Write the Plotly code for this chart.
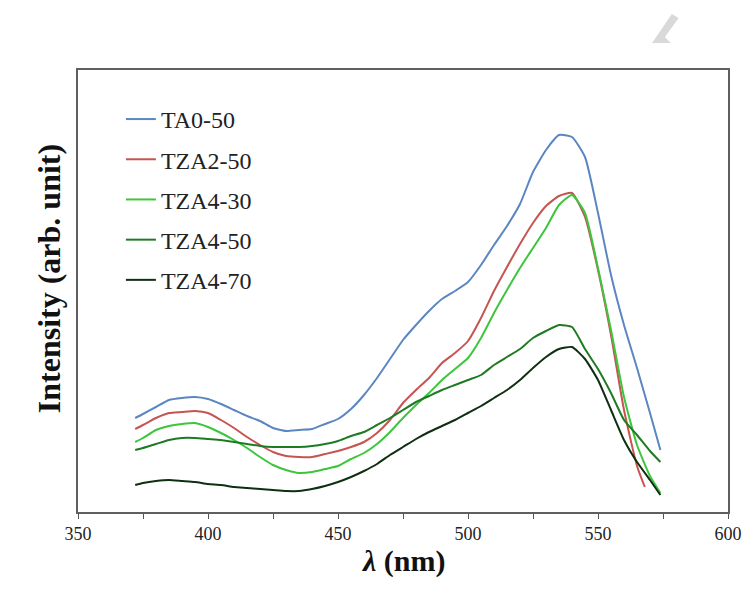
import plotly.graph_objects as go

# wavelength grids (nm)
wl = [372, 375, 380, 385, 390, 395, 400, 405, 410, 415, 420, 425, 430, 435,
      440, 445, 450, 455, 460, 465, 470, 475, 480, 485, 490, 495, 500, 505,
      510, 515, 520, 525, 530, 535, 540, 545, 550, 555, 560, 565, 570, 574]
wl_red = [372, 375, 380, 385, 390, 395, 400, 405, 410, 415, 420, 425, 430, 435,
          440, 445, 450, 455, 460, 465, 470, 475, 480, 485, 490, 495, 500, 505,
          510, 515, 520, 525, 530, 535, 540, 545, 550, 555, 560, 565, 568]

ta0_50 = [94, 98, 105, 112, 114, 115, 113, 108, 102, 96, 91, 84, 81, 82,
          83, 88, 93, 103, 117, 134, 153, 172, 187, 201, 213, 221, 230, 247,
          267, 286, 308, 340, 362, 377, 375, 355, 299, 237, 187, 144, 99, 62]
tza2_50 = [83, 87, 94, 99, 100, 101, 99, 92, 84, 75, 67, 60, 56, 55,
           55, 58, 61, 65, 70, 79, 92, 109, 122, 134, 149, 159, 171, 194,
           221, 245, 268, 289, 306, 316, 319, 295, 242, 177, 102, 46, 25]
tza4_30 = [70, 74, 82, 86, 88, 89, 85, 79, 72, 64, 55, 47, 42, 39,
           40, 43, 46, 53, 59, 68, 80, 94, 107, 119, 132, 143, 154, 174,
           199, 222, 244, 264, 284, 307, 317, 299, 244, 182, 115, 67, 36, 19]
tza4_50 = [62, 64, 68, 72, 74, 74, 73, 72, 70, 68, 66, 65, 65, 65,
           66, 68, 71, 76, 80, 87, 94, 102, 110, 116, 122, 127, 132, 137,
           147, 155, 163, 174, 181, 187, 185, 163, 143, 119, 92, 77, 61, 50]
tza4_70 = [27, 29, 31, 32, 31, 30, 28, 27, 25, 24, 23, 22, 21, 21,
           23, 26, 30, 35, 41, 48, 57, 65, 73, 80, 86, 92, 99, 106,
           114, 122, 132, 144, 155, 163, 165, 153, 132, 102, 72, 50, 32, 17]

names = ["TA0-50", "TZA2-50", "TZA4-30", "TZA4-50", "TZA4-70"]
colors = ["#5b86c2", "#c65451", "#3dc63d", "#1f7a24", "#0f2f12"]
xs = [wl, wl_red, wl, wl, wl]
ys = [ta0_50, tza2_50, tza4_30, tza4_50, tza4_70]

fig = go.Figure()
for n, c, x, y in zip(names, colors, xs, ys):
    fig.add_trace(go.Scatter(x=x, y=y, mode="lines", name=n, legendgroup=n,
                             line=dict(color=c, width=2, shape="spline", smoothing=0.5)))

serif = "Liberation Serif"
fig.update_layout(
    width=754, height=591,
    margin=dict(l=78, r=17, t=70, b=79),
    paper_bgcolor="white", plot_bgcolor="white",
    showlegend=True,
    legend=dict(x=0.066, y=0.939, xanchor="left", yanchor="top",
                font=dict(family=serif, size=24, color="#222"),
                tracegroupgap=6, bgcolor="rgba(0,0,0,0)"),
    xaxis=dict(range=[350, 600], dtick=50, tick0=350, ticks="outside", ticklen=5,
               tickcolor="#555", showline=True, linecolor="#5f5f5f", linewidth=1.5,
               mirror=True, showgrid=False, zeroline=False,
               tickfont=dict(family=serif, size=18, color="#222"),
               minor=dict(dtick=25, ticks="outside", ticklen=5, tickcolor="#555")),
    yaxis=dict(range=[0, 442], showticklabels=False, ticks="", showline=True,
               linecolor="#5f5f5f", linewidth=1.5, mirror=True, showgrid=False,
               zeroline=False),
    annotations=[
        dict(text="<b>Intensity (arb. unit)</b>", xref="paper", yref="paper",
             x=-0.076, y=0.528, textangle=-90, showarrow=False,
             font=dict(family=serif, size=32, color="#111")),
        dict(text="<b><i>λ</i> (nm)</b>", xref="paper", yref="paper",
             x=0.5, y=-0.111, yanchor="middle", showarrow=False,
             font=dict(family=serif, size=30, color="#111")),
    ],
    shapes=[dict(type="path", xref="paper", yref="paper",
                 path="M 0.9135 1.1267 L 0.9241 1.1176 L 0.9029 1.0747 L 0.9120 1.0611 L 0.8832 1.0611 Z",
                 fillcolor="#d9d9d9", line=dict(width=0))],
)
fig.write_html("out.html")
